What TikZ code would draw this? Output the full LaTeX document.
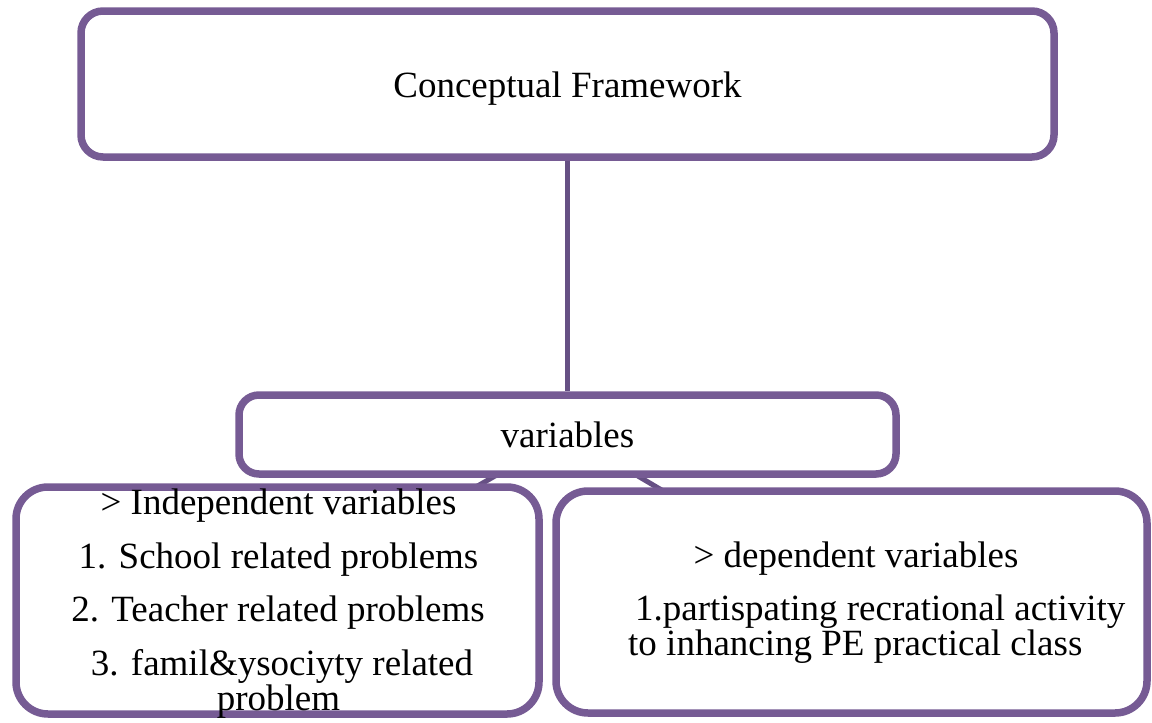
\documentclass[tikz,border=0pt]{standalone}
\usepackage{fontspec}
\setmainfont{Liberation Serif}
\usetikzlibrary{shadows,backgrounds}
\definecolor{boxpurple}{RGB}{118,91,148}
\definecolor{linepurple}{RGB}{102,80,132}
\tikzset{
  framebox/.style={draw=boxpurple, line width=7.5pt, fill=white, rectangle,
    inner sep=0pt,
    drop shadow={shadow xshift=1.5pt, shadow yshift=-3pt, opacity=0.25, fill=black}},
  lbl/.style={anchor=base, inner sep=0pt, font=\fontsize{37}{40}\selectfont},
  conn/.style={draw=linepurple, line width=5pt}
}
\begin{document}
\begin{tikzpicture}[x=1pt,y=-1pt]
\useasboundingbox (0,0) rectangle (1152,723);
% boxes
\node[framebox, rounded corners=22pt, minimum width=973pt, minimum height=146pt] (top) at (567.5,84) {};
\node[framebox, rounded corners=20pt, minimum width=657pt, minimum height=79pt] (vars) at (567.5,434.5) {};
\node[framebox, rounded corners=32pt, minimum width=523pt, minimum height=227pt] (indep) at (277.5,600.5) {};
\node[framebox, rounded corners=32pt, minimum width=591pt, minimum height=222pt] (dep) at (851.5,602) {};
% connectors
\begin{scope}[on background layer]
\draw[conn] (vars.center) -- (indep.center);
\draw[conn] (vars.center) -- (dep.center);
\end{scope}
\draw[conn] (top.south) -- (vars.north);
% texts
\node[lbl] (t1) at (567.5,97) {Conceptual Framework};
\node[lbl] (t2) at (567.5,447) {variables};
\node[lbl] (i0) at (278.5,514) {> Independent variables};
\node[lbl] (i1) at (278.5,568) {1. School related problems};
\node[lbl] (i2) at (278,621) {2. Teacher related problems};
\node[lbl] (i3) at (282,675) {3. famil\&ysociyty related};
\node[lbl] (i4) at (278.5,710) {problem};
\node[lbl] (d0) at (856,567) {> dependent variables};
\node[lbl, anchor=base west] (d1) at (635,620) {1.partispating recrational activity};
\node[lbl, anchor=base west] (d2) at (628,655) {to inhancing PE practical class};
\end{tikzpicture}
\end{document}
